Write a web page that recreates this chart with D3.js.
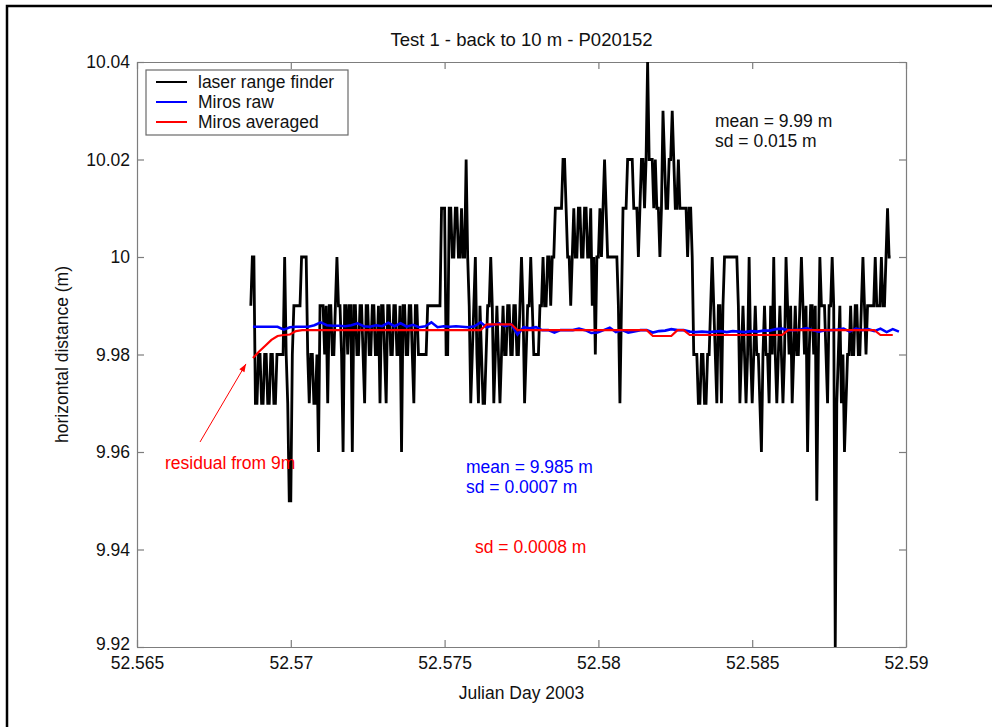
<!DOCTYPE html>
<html>
<head>
<meta charset="utf-8">
<script src="https://cdn.jsdelivr.net/npm/d3@7"></script>
<style>
  html, body { margin: 0; padding: 0; background: #fff; }
  svg { display: block; }
  text { font-family: "Liberation Sans", Arial, Helvetica, sans-serif; }
</style>
</head>
<body>
<svg id="chart" width="992" height="727"></svg>
<script>
// Axis ticks
const xTicks = [52.565, 52.57, 52.575, 52.58, 52.585, 52.59];
const xTickLabels = ["52.565", "52.57", "52.575", "52.58", "52.585", "52.59"];
const yTicks = [9.92, 9.94, 9.96, 9.98, 10, 10.02, 10.04];
const yTickLabels = ["9.92", "9.94", "9.96", "9.98", "10", "10.02", "10.04"];

// Laser range finder: one reading every laserStep days from laserStart (m)
const laserStart = 52.5687;
const laserStep = 0.00005;
const laserValues = [
  9.99, 10.00, 10.00, 9.97, 9.97, 9.98, 9.98, 9.97, 9.97, 9.98,
  9.98, 9.97, 9.97, 9.98, 9.98, 9.97, 9.97, 9.98, 9.98, 9.98,
  9.98, 9.98, 10.00, 9.98, 9.97, 9.95, 9.95, 9.98, 9.99, 9.99,
  9.99, 9.99, 9.99, 10.00, 10.00, 10.00, 10.00, 9.98, 9.97, 9.98,
  9.98, 9.97, 9.97, 9.98, 9.96, 9.99, 9.99, 9.99, 9.98, 9.99,
  9.97, 9.99, 9.99, 9.98, 9.98, 9.99, 10.00, 9.99, 9.99, 9.98,
  9.96, 9.99, 9.99, 9.98, 9.99, 9.99, 9.96, 9.99, 9.99, 9.98,
  9.98, 9.99, 9.99, 9.98, 9.97, 9.99, 9.99, 9.98, 9.98, 9.99,
  9.99, 9.98, 9.98, 9.99, 9.97, 9.99, 9.99, 9.98, 9.97, 9.99,
  9.99, 9.98, 9.98, 9.99, 9.99, 9.98, 9.98, 9.99, 9.96, 9.99,
  9.99, 9.98, 9.98, 9.99, 9.99, 9.98, 9.97, 9.99, 9.99, 9.98,
  9.98, 9.98, 9.98, 9.98, 9.98, 9.99, 9.99, 9.99, 9.99, 9.99,
  9.99, 9.99, 9.99, 9.99, 10.01, 10.01, 10.01, 9.98, 9.98, 10.01,
  10.01, 10.00, 10.00, 10.01, 10.01, 10.00, 10.00, 10.01, 10.00, 10.00,
  10.02, 10.00, 9.99, 9.97, 9.98, 9.99, 10.00, 9.98, 9.97, 9.99,
  9.98, 9.97, 9.97, 9.98, 9.99, 9.99, 10.00, 9.99, 9.97, 9.98,
  9.99, 9.98, 9.97, 9.98, 9.99, 9.98, 9.98, 9.99, 9.99, 9.98,
  9.98, 9.99, 9.99, 9.98, 9.98, 9.99, 10.00, 9.99, 9.97, 9.98,
  9.99, 9.99, 10.00, 9.99, 9.98, 9.98, 9.98, 9.98, 9.99, 9.99,
  10.00, 9.99, 9.99, 10.00, 10.00, 9.99, 10.00, 10.00, 10.01, 10.01,
  10.01, 10.01, 10.01, 10.02, 10.02, 10.01, 10.00, 10.00, 9.99, 10.00,
  10.01, 10.00, 10.00, 10.01, 10.01, 10.00, 10.00, 10.01, 10.01, 10.00,
  10.00, 10.01, 9.99, 10.00, 9.98, 10.00, 10.00, 10.01, 10.00, 10.01,
  10.02, 10.01, 10.00, 10.00, 10.00, 10.00, 10.00, 10.00, 10.00, 9.99,
  9.97, 9.99, 10.01, 10.01, 10.01, 10.02, 10.02, 10.02, 10.02, 10.01,
  10.01, 10.01, 10.00, 10.01, 10.02, 10.02, 10.01, 10.02, 10.04, 10.02,
  10.02, 10.02, 10.01, 10.02, 10.01, 10.01, 10.00, 10.01, 10.03, 10.02,
  10.01, 10.01, 10.02, 10.02, 10.03, 10.02, 10.01, 10.01, 10.02, 10.01,
  10.01, 10.01, 10.01, 10.01, 10.00, 10.01, 10.01, 10.00, 9.98, 9.98,
  9.98, 9.97, 9.97, 9.98, 9.98, 9.97, 9.97, 9.98, 9.98, 9.99,
  10.00, 9.99, 9.98, 9.97, 9.99, 9.99, 9.97, 9.99, 10.00, 10.00,
  10.00, 10.00, 10.00, 10.00, 10.00, 10.00, 10.00, 9.99, 9.97, 9.98,
  9.99, 9.98, 9.97, 9.98, 10.00, 9.98, 9.97, 9.98, 9.99, 9.98,
  9.98, 9.97, 9.96, 9.98, 9.99, 9.98, 9.98, 9.97, 9.99, 9.98,
  10.00, 9.98, 9.97, 9.98, 9.99, 9.98, 9.97, 9.98, 10.00, 9.99,
  9.98, 9.99, 9.97, 9.98, 9.99, 9.98, 9.98, 9.99, 10.00, 9.99,
  9.98, 9.99, 9.96, 9.98, 9.99, 9.99, 9.98, 9.99, 9.95, 9.98,
  10.00, 9.99, 9.99, 9.99, 9.98, 9.97, 9.99, 9.99, 10.00, 9.99,
  9.92, 9.97, 9.98, 9.99, 9.97, 9.98, 9.96, 9.97, 9.98, 9.98,
  9.99, 9.98, 9.98, 9.99, 9.99, 9.98, 9.98, 9.99, 10.00, 9.99,
  9.98, 9.99, 9.99, 9.99, 9.99, 9.99, 10.00, 9.99, 9.99, 9.99,
  10.00, 9.99, 9.99, 10.00, 10.01, 10.00, 10.00
];

// Miros radar: one reading every mirosStep days from mirosStart (m)
const mirosStart = 52.56877;
const mirosStep = 0.0002;
const mirosRaw = [
  9.9857, 9.9857, 9.9857, 9.9857, 9.9857, 9.9851, 9.9856, 9.9857, 9.9857, 9.9857,
  9.9860, 9.9866, 9.9860, 9.9859, 9.9859, 9.9858, 9.9860, 9.9864, 9.9858, 9.9857,
  9.9860, 9.9858, 9.9865, 9.9858, 9.9864, 9.9857, 9.9861, 9.9856, 9.9858, 9.9866,
  9.9856, 9.9858, 9.9857, 9.9858, 9.9857, 9.9856, 9.9858, 9.9866, 9.9856, 9.9860,
  9.9864, 9.9858, 9.9862, 9.9841, 9.9856, 9.9854, 9.9856, 9.9850, 9.9850, 9.9845,
  9.9850, 9.9850, 9.9850, 9.9853, 9.9850, 9.9844, 9.9845, 9.9850, 9.9855, 9.9846,
  9.9850, 9.9845, 9.9847, 9.9850, 9.9850, 9.9845, 9.9848, 9.9849, 9.9852, 9.9850,
  9.9850, 9.9847, 9.9846, 9.9847, 9.9846, 9.9847, 9.9848, 9.9846, 9.9848, 9.9847,
  9.9846, 9.9848, 9.9847, 9.9849, 9.9849, 9.9852, 9.9853, 9.9850, 9.9850, 9.9851,
  9.9854, 9.9850, 9.9847, 9.9850, 9.9850, 9.9851, 9.9853, 9.9847, 9.9853, 9.9850,
  9.9852, 9.9848, 9.9853, 9.9846, 9.9852, 9.9847
];
const mirosAveraged = [
  9.9793, 9.9806, 9.9818, 9.9830, 9.9838, 9.9840, 9.9841, 9.9848, 9.9850, 9.9850,
  9.9850, 9.9850, 9.9850, 9.9850, 9.9850, 9.9850, 9.9850, 9.9850, 9.9850, 9.9850,
  9.9850, 9.9850, 9.9850, 9.9850, 9.9850, 9.9850, 9.9850, 9.9850, 9.9850, 9.9850,
  9.9850, 9.9850, 9.9850, 9.9850, 9.9850, 9.9850, 9.9850, 9.9850, 9.9862, 9.9862,
  9.9862, 9.9862, 9.9862, 9.9850, 9.9850, 9.9850, 9.9850, 9.9850, 9.9850, 9.9850,
  9.9850, 9.9850, 9.9850, 9.9850, 9.9850, 9.9850, 9.9850, 9.9850, 9.9850, 9.9850,
  9.9850, 9.9850, 9.9850, 9.9850, 9.9850, 9.9838, 9.9838, 9.9838, 9.9838, 9.9850,
  9.9850, 9.9840, 9.9840, 9.9840, 9.9840, 9.9840, 9.9840, 9.9840, 9.9840, 9.9840,
  9.9840, 9.9840, 9.9840, 9.9840, 9.9840, 9.9840, 9.9840, 9.9850, 9.9850, 9.9850,
  9.9850, 9.9850, 9.9850, 9.9850, 9.9850, 9.9850, 9.9850, 9.9850, 9.9850, 9.9850,
  9.9850, 9.9850, 9.9840, 9.9840, 9.9840
];

const seriesNames = ["laser range finder", "Miros raw", "Miros averaged"];
const seriesColors = ["#000000", "#0000ff", "#ff0000"];

const titleText = "Test 1 - back to 10 m - P020152";
const xLabel = "Julian Day 2003";
const yLabel = "horizontal distance (m)";
const laserStats = ["mean = 9.99 m", "sd = 0.015 m"];
const rawStats = ["mean = 9.985 m", "sd = 0.0007 m"];
const avgStats = ["sd = 0.0008 m"];
const residualNote = "residual from 9m";

// ---- layout ----
const plot = { left: 137, right: 906, top: 62, bottom: 647 };
const fontSize = "17.5px";
const axisGrey = "#7d7d7d";

const svg = d3.select("#chart");

// outer frame (left and top edges)
svg.append("path")
  .attr("d", "M7,727 V6 H992")
  .attr("fill", "none")
  .attr("stroke", "#000")
  .attr("stroke-width", 2.5);

const x = d3.scaleLinear().domain([52.565, 52.59]).range([plot.left, plot.right]);
const y = d3.scaleLinear().domain([9.92, 10.04]).range([plot.bottom, plot.top]);

svg.append("defs").append("clipPath").attr("id", "plotClip")
  .append("rect")
  .attr("x", plot.left).attr("y", plot.top - 1)
  .attr("width", plot.right - plot.left).attr("height", plot.bottom - plot.top + 2);

function styleAxis(g) {
  g.select(".domain").attr("stroke", axisGrey).attr("stroke-width", 1.2);
  g.selectAll(".tick line").attr("stroke", axisGrey).attr("stroke-width", 1.2);
  g.selectAll(".tick text").attr("fill", "#111").style("font-size", fontSize);
}

// bottom and left axes with labels, ticks pointing inward
svg.append("g")
  .attr("transform", `translate(0,${plot.bottom})`)
  .call(d3.axisBottom(x).tickValues(xTicks).tickFormat((d, i) => xTickLabels[i])
    .tickSizeInner(-7).tickSizeOuter(0).tickPadding(10))
  .call(styleAxis);

const yAxisG = svg.append("g")
  .attr("transform", `translate(${plot.left},0)`)
  .call(d3.axisLeft(y).tickValues(yTicks).tickFormat((d, i) => yTickLabels[i])
    .tickSizeInner(-7).tickSizeOuter(0).tickPadding(7))
  .call(styleAxis);
// the lowest label sits just above the corner, clear of the x labels
yAxisG.selectAll(".tick text").filter(d => d === yTicks[0]).attr("y", -3);

// top and right box edges carry the same ticks, unlabeled
svg.append("g")
  .attr("transform", `translate(0,${plot.top})`)
  .call(d3.axisTop(x).tickValues(xTicks).tickFormat("")
    .tickSizeInner(-7).tickSizeOuter(0))
  .call(styleAxis);

svg.append("g")
  .attr("transform", `translate(${plot.right},0)`)
  .call(d3.axisRight(y).tickValues(yTicks).tickFormat("")
    .tickSizeInner(-7).tickSizeOuter(0))
  .call(styleAxis);

// ---- series ----
const laserData = laserValues.map((v, i) => ({ t: laserStart + i * laserStep, v }));
const rawData = mirosRaw.map((v, i) => ({ t: mirosStart + i * mirosStep, v }));
const avgData = mirosAveraged.map((v, i) => ({ t: mirosStart + i * mirosStep, v }));

const line = d3.line().x(d => x(d.t)).y(d => y(d.v));
const dataLayer = svg.append("g").attr("clip-path", "url(#plotClip)");

[[laserData, 2.8], [rawData, 2.6], [avgData, 2.2]].forEach(([data, w], k) => {
  dataLayer.append("path")
    .datum(data)
    .attr("d", line)
    .attr("fill", "none")
    .attr("stroke", seriesColors[k])
    .attr("stroke-width", w)
    .attr("stroke-linejoin", "miter")
    .attr("stroke-miterlimit", 3);
});

// ---- titles ----
svg.append("text")
  .attr("x", (plot.left + plot.right) / 2).attr("y", 46)
  .attr("text-anchor", "middle").style("font-size", "18.5px").attr("fill", "#111")
  .text(titleText);

svg.append("text")
  .attr("x", (plot.left + plot.right) / 2).attr("y", 699)
  .attr("text-anchor", "middle").style("font-size", fontSize).attr("fill", "#111")
  .text(xLabel);

svg.append("text")
  .attr("transform", `translate(68,${(plot.top + plot.bottom) / 2}) rotate(-90)`)
  .attr("text-anchor", "middle").style("font-size", fontSize).attr("fill", "#111")
  .text(yLabel);

// ---- legend ----
const legend = svg.append("g");
legend.append("rect")
  .attr("x", 146).attr("y", 70).attr("width", 202).attr("height", 65)
  .attr("fill", "#fff").attr("stroke", "#6a6a6a").attr("stroke-width", 1.2);
seriesNames.forEach((name, i) => {
  const ly = 82 + i * 20;
  legend.append("line")
    .attr("x1", 156).attr("x2", 187).attr("y1", ly).attr("y2", ly)
    .attr("stroke", seriesColors[i]).attr("stroke-width", 2);
  legend.append("text")
    .attr("x", 198).attr("y", ly + 5.5)
    .style("font-size", fontSize).attr("fill", "#111")
    .text(name);
});

// ---- statistics notes ----
function note(lines, x0, y0, color) {
  lines.forEach((s, i) => {
    svg.append("text")
      .attr("x", x0).attr("y", y0 + i * 19.5)
      .style("font-size", fontSize).attr("fill", color)
      .text(s);
  });
}
note(laserStats, 715, 127, "#111");
note(rawStats, 466, 473, seriesColors[1]);
note(avgStats, 475, 553, seriesColors[2]);
note([residualNote], 165, 469, seriesColors[2]);

// arrow from the residual note to the start of the averaged series
const tip = [x(mirosStart) - 7, y(mirosAveraged[0]) + 6];
const tail = [200, 442];
svg.append("line")
  .attr("x1", tail[0]).attr("y1", tail[1]).attr("x2", tip[0]).attr("y2", tip[1])
  .attr("stroke", seriesColors[2]).attr("stroke-width", 1);
const ang = Math.atan2(tip[1] - tail[1], tip[0] - tail[0]);
const hl = 8, hw = 3;
const bx = tip[0] - hl * Math.cos(ang), by = tip[1] - hl * Math.sin(ang);
svg.append("path")
  .attr("d", `M${tip[0]},${tip[1]} L${bx + hw * Math.sin(ang)},${by - hw * Math.cos(ang)} L${bx - hw * Math.sin(ang)},${by + hw * Math.cos(ang)} Z`)
  .attr("fill", seriesColors[2]);
</script>
</body>
</html>
